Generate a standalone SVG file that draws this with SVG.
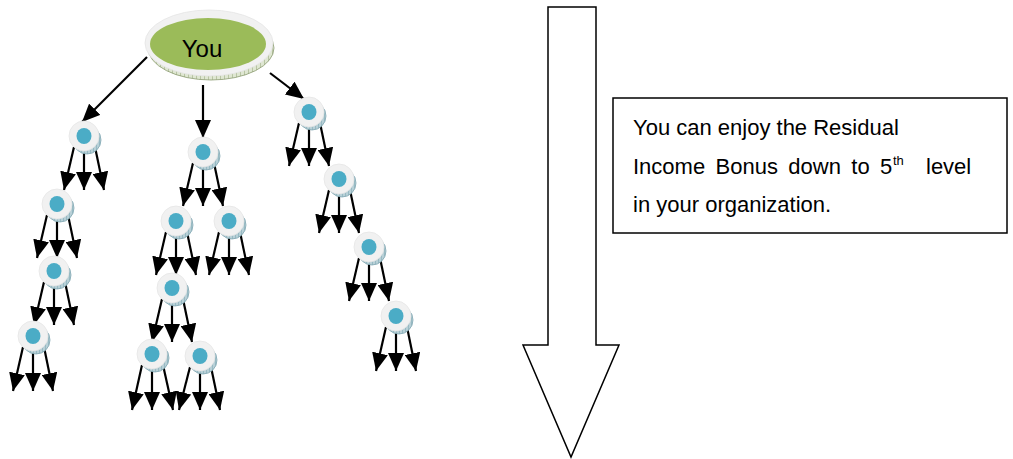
<svg xmlns="http://www.w3.org/2000/svg" xmlns:xlink="http://www.w3.org/1999/xlink" width="1013" height="459" viewBox="0 0 1013 459">
<style>
.cn path{stroke:#000;stroke-width:2.2;fill:none;marker-end:url(#ah)}
.txt{font-family:"Liberation Sans",Arial,sans-serif;fill:#000}
.box{fill:#fff;stroke:#000;stroke-width:1.5}
</style>
<defs>
<marker id="ah" viewBox="0 0 18 16" refX="18" refY="8" markerWidth="18" markerHeight="16" markerUnits="userSpaceOnUse" orient="auto">
<path d="M0,0 L18,8 L0,16 z" fill="#000"/>
</marker>
<pattern id="hatchB" width="3" height="3" patternUnits="userSpaceOnUse">
<rect width="3" height="3" fill="#b8d0d7"/>
<path d="M0,0 L0,3" stroke="#6a98a5" stroke-width="0.8"/>
</pattern>
<pattern id="hatchG" width="4" height="4" patternUnits="userSpaceOnUse">
<rect width="4" height="4" fill="#dfe7d2"/>
<path d="M0,0 L0,4" stroke="#7d8f60" stroke-width="0.8"/>
</pattern>
<g id="nd">
<circle cx="3" cy="4" r="14" fill="url(#hatchB)" stroke="#7fa6b1" stroke-width="0.8"/>
<circle cx="0" cy="0" r="15" fill="#f1f1f1" stroke="#e6e6e6" stroke-width="0.8"/>
<ellipse cx="0" cy="0" rx="7.5" ry="8" fill="#4bacc6"/>
</g>
</defs>
<rect width="1013" height="459" fill="#fff"/>

<g id="connectors" class="cn">
<path d="M147,57 L82,122"/>
<path d="M203,85 L203,138"/>
<path d="M270,73 L304,99"/>
<path d="M74,147 L64,190"/><path d="M84,150 L84,190"/><path d="M95,147 L104,190"/>
<path d="M47,215 L37,258"/><path d="M57,218 L57,258"/><path d="M68,215 L77,258"/>
<path d="M44,282 L34,325"/><path d="M54,285 L54,325"/><path d="M65,282 L74,325"/>
<path d="M23,347 L13,391"/><path d="M33,350 L33,391"/><path d="M44,347 L53,391"/>
<path d="M193,163 L183,206"/><path d="M203,166 L203,206"/><path d="M214,163 L223,206"/>
<path d="M166,232 L156,275"/><path d="M176,235 L176,275"/><path d="M187,232 L196,275"/>
<path d="M219,232 L209,275"/><path d="M229,235 L229,275"/><path d="M240,232 L249,275"/>
<path d="M162,299 L152,342"/><path d="M172,302 L172,342"/><path d="M183,299 L192,342"/>
<path d="M142,365 L132,410"/><path d="M152,368 L152,410"/><path d="M163,365 L173,410"/>
<path d="M190,367 L179,410"/><path d="M200,370 L200,410"/><path d="M211,367 L220,410"/>
<path d="M299,123 L289,166"/><path d="M309,126 L309,166"/><path d="M320,123 L329,166"/>
<path d="M329,190 L319,233"/><path d="M339,193 L339,233"/><path d="M350,190 L359,233"/>
<path d="M359,258 L349,301"/><path d="M369,261 L369,301"/><path d="M380,258 L389,301"/>
<path d="M386,327 L376,371"/><path d="M396,330 L396,371"/><path d="M407,327 L416,371"/>
</g>

<g id="you">
<ellipse cx="211" cy="48" rx="63" ry="32" fill="url(#hatchG)" stroke="#8a9a70" stroke-width="0.8"/>
<ellipse cx="209" cy="43" rx="64" ry="33" fill="#f1f1f1" stroke="#e4e4e4" stroke-width="0.8"/>
<ellipse cx="208" cy="44" rx="58" ry="26" fill="#9bbb59"/>
<text class="txt" x="202" y="57" font-size="24" text-anchor="middle">You</text>
</g>

<g id="n-a1"><use xlink:href="#nd" x="84" y="136"/></g>
<g id="n-a2"><use xlink:href="#nd" x="57" y="204"/></g>
<g id="n-a3"><use xlink:href="#nd" x="54" y="271"/></g>
<g id="n-a4"><use xlink:href="#nd" x="33" y="336"/></g>
<g id="n-b1"><use xlink:href="#nd" x="203" y="152"/></g>
<g id="n-b2"><use xlink:href="#nd" x="176" y="221"/></g>
<g id="n-b3"><use xlink:href="#nd" x="229" y="221"/></g>
<g id="n-b4"><use xlink:href="#nd" x="172" y="288"/></g>
<g id="n-b5"><use xlink:href="#nd" x="152" y="354"/></g>
<g id="n-b6"><use xlink:href="#nd" x="200" y="356"/></g>
<g id="n-c1"><use xlink:href="#nd" x="309" y="112"/></g>
<g id="n-c2"><use xlink:href="#nd" x="339" y="179"/></g>
<g id="n-c3"><use xlink:href="#nd" x="369" y="247"/></g>
<g id="n-c4"><use xlink:href="#nd" x="396" y="316"/></g>

<g id="big-arrow">
<polygon points="548,7 596,7 596,345 619,345 571,457 523,345 548,345" fill="#fff" stroke="#000" stroke-width="1.5"/>
</g>

<g id="textbox">
<rect class="box" x="613" y="98" width="394" height="135"/>
<text class="txt" font-size="22">
<tspan x="633" y="135">You can enjoy the Residual</tspan>
<tspan x="633" y="174" word-spacing="4.3">Income Bonus down to 5</tspan><tspan x="893" y="165" font-size="13">th</tspan><tspan x="926" y="174">level</tspan>
<tspan x="633" y="212">in your organization.</tspan>
</text>
</g>
</svg>
